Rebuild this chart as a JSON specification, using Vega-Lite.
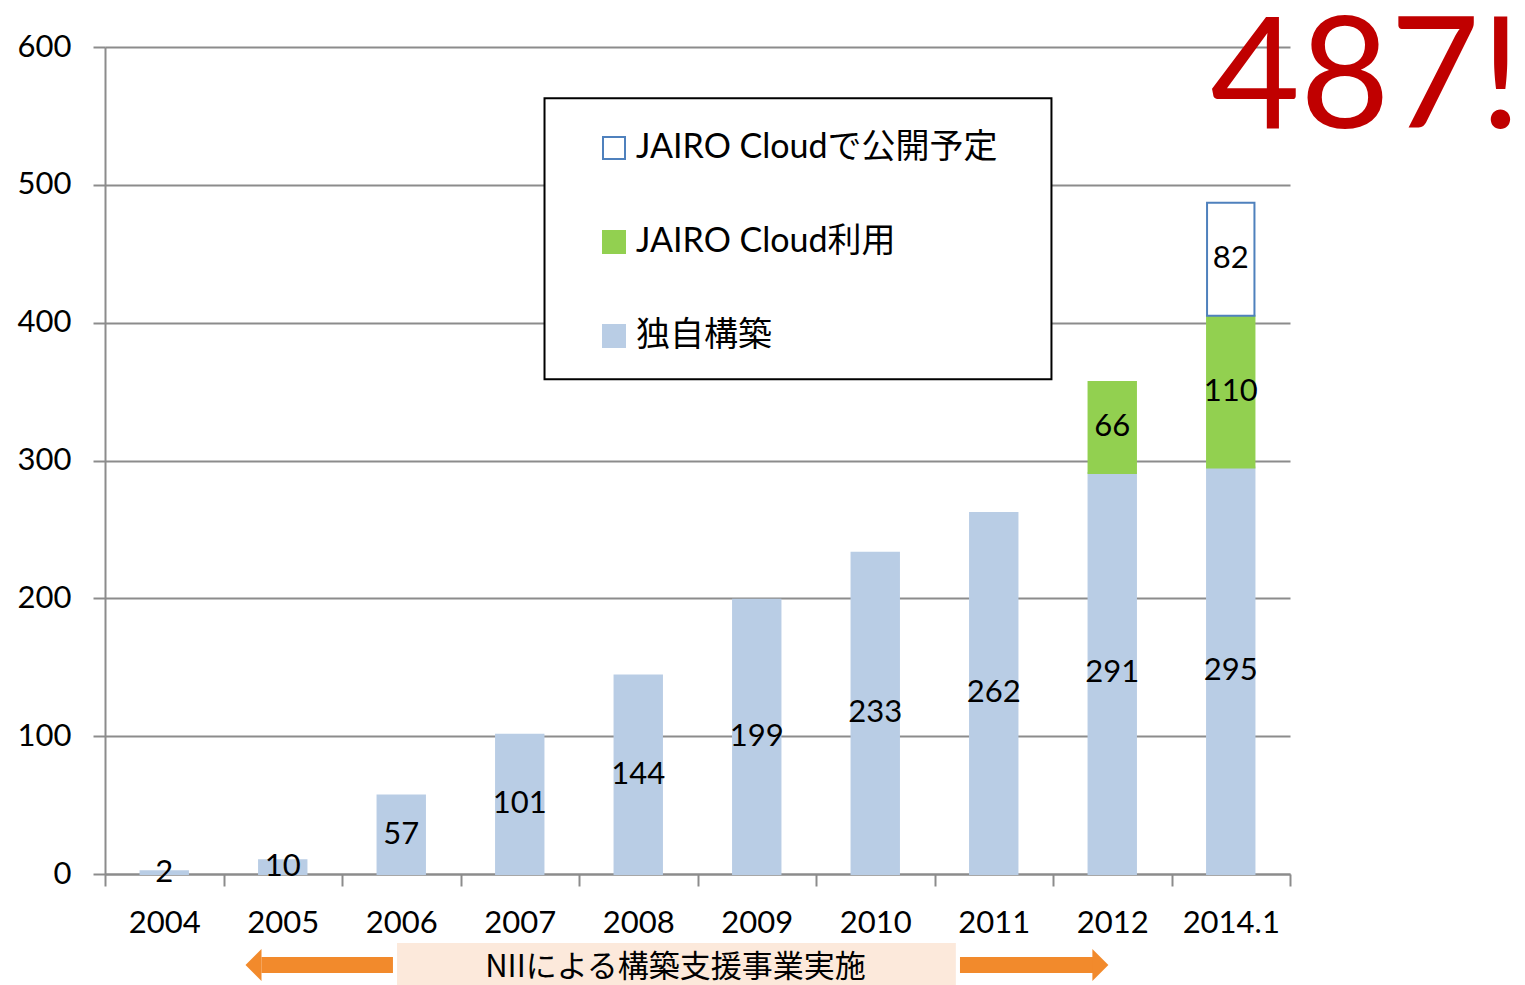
{
  "$schema": "https://vega.github.io/schema/vega-lite/v6.json",
  "width": 1185,
  "height": 827,
  "autosize": {"type": "none"},
  "padding": {"left": 105, "top": 47, "right": 235, "bottom": 111},
  "background": "white",
  "config": {"view": {"stroke": null}, "font": "Lato, Noto Sans CJK JP"},
  "datasets": {
    "bars": [
      {"year": "2004", "category": "独自構築", "ord": 1, "value": 2},
      {"year": "2005", "category": "独自構築", "ord": 1, "value": 10},
      {"year": "2006", "category": "独自構築", "ord": 1, "value": 57},
      {"year": "2007", "category": "独自構築", "ord": 1, "value": 101},
      {"year": "2008", "category": "独自構築", "ord": 1, "value": 144},
      {"year": "2009", "category": "独自構築", "ord": 1, "value": 199},
      {"year": "2010", "category": "独自構築", "ord": 1, "value": 233},
      {"year": "2011", "category": "独自構築", "ord": 1, "value": 262},
      {"year": "2012", "category": "独自構築", "ord": 1, "value": 291},
      {"year": "2012", "category": "JAIRO Cloud利用", "ord": 2, "value": 66},
      {"year": "2014.1", "category": "独自構築", "ord": 1, "value": 295},
      {"year": "2014.1", "category": "JAIRO Cloud利用", "ord": 2, "value": 110},
      {"year": "2014.1", "category": "JAIRO Cloudで公開予定", "ord": 3, "value": 82}
    ],
    "box": [{"x": 3.709, "x2": 7.987, "y": 358.9, "y2": 562.8}],
    "banner": [{"x": 2.464, "x2": 7.18, "y": -50.1, "y2": -90}],
    "bannerText": [{"x": 4.814, "y": -68, "text": "NIIによる構築支援事業実施"}],
    "shafts": [{"x": 1.32, "x2": 2.43, "y": -66}, {"x": 7.215, "x2": 8.34, "y": -66}],
    "heads": [{"x": 1.253, "y": -66, "dir": "left"}, {"x": 8.40, "y": -66, "dir": "right"}],
    "big": [{"x": 10.64, "y": 541.2, "text": "487!"}]
  },
  "resolve": {"scale": {"x": "independent"}},
  "layer": [
    {
      "data": {"name": "bars"},
      "mark": {"type": "bar", "strokeWidth": 2, "width": {"band": 0.4}},
      "encoding": {
        "x": {
          "field": "year", "type": "nominal",
          "sort": ["2004","2005","2006","2007","2008","2009","2010","2011","2012","2014.1"],
          "scale": {"type": "band", "paddingInner": 0, "paddingOuter": 0},
          "axis": {"title": null, "labelFontSize": 31, "labelColor": "black", "labelAngle": 0, "tickBand": "extent", "tickSize": 12, "tickColor": "#8c8c8c", "tickWidth": 2, "domainColor": "#8c8c8c", "domainWidth": 2, "labelPadding": 22, "grid": false}
        },
        "y": {
          "field": "value", "type": "quantitative", "stack": "zero",
          "scale": {"domain": [0, 600], "nice": false},
          "axis": {"title": null, "values": [0,100,200,300,400,500,600], "labelFontSize": 31, "labelColor": "black", "tickSize": 12, "labelPadding": 22, "tickColor": "#8c8c8c", "tickWidth": 2, "domainColor": "#8c8c8c", "domainWidth": 2, "grid": true, "gridColor": "#8c8c8c", "gridWidth": 2}
        },
        "color": {
          "field": "category", "type": "nominal",
          "scale": {"domain": ["JAIRO Cloudで公開予定", "JAIRO Cloud利用", "独自構築"], "range": ["#FFFFFF", "#92D050", "#B9CDE5"]},
          "legend": {"orient": "none", "legendX": 492, "legendY": 84, "title": null, "symbolType": "square", "symbolSize": 484, "symbolStrokeWidth": 2, "labelFontSize": 34, "labelColor": "black", "labelFont": "Lato, Noto Sans CJK JP", "labelOffset": 5, "rowPadding": 60, "padding": 0, "labelLimit": 600}
        },
        "stroke": {
          "field": "category", "type": "nominal",
          "scale": {"domain": ["JAIRO Cloudで公開予定", "JAIRO Cloud利用", "独自構築"], "range": ["#4F81BD", "#92D050", "#B9CDE5"]},
          "legend": {"orient": "none", "legendX": 492, "legendY": 84, "title": null, "symbolType": "square", "symbolSize": 484, "symbolStrokeWidth": 2, "labelFontSize": 34, "labelColor": "black", "labelFont": "Lato, Noto Sans CJK JP", "labelOffset": 5, "rowPadding": 60, "padding": 0, "labelLimit": 600}
        },
        "order": {"field": "ord", "type": "quantitative"}
      }
    },
    {
      "data": {"name": "box"},
      "mark": {"type": "rect", "fill": "white", "stroke": "black", "strokeWidth": 2},
      "encoding": {
        "x": {"field": "x", "type": "quantitative", "scale": {"domain": [0, 10], "nice": false, "zero": false}, "axis": null},
        "x2": {"field": "x2"},
        "y": {"field": "y", "type": "quantitative", "scale": {"domain": [0, 600], "nice": false}},
        "y2": {"field": "y2"}
      }
    },
    {
      "data": {"name": "bars"},
      "transform": [
        {"stack": "value", "groupby": ["year"], "sort": [{"field": "ord"}], "as": ["v0", "v1"]},
        {"calculate": "(datum.v0 + datum.v1) / 2", "as": "mid"}
      ],
      "mark": {"type": "text", "fontSize": 31, "color": "black", "baseline": "middle", "align": "center"},
      "encoding": {
        "x": {"field": "year", "type": "nominal", "sort": ["2004","2005","2006","2007","2008","2009","2010","2011","2012","2014.1"], "scale": {"type": "band", "paddingInner": 0, "paddingOuter": 0}, "axis": null},
        "y": {"field": "mid", "type": "quantitative", "scale": {"domain": [0, 600], "nice": false}},
        "text": {"field": "value", "type": "quantitative"}
      }
    },
    {
      "data": {"name": "banner"},
      "mark": {"type": "rect", "fill": "#FCE9DB"},
      "encoding": {
        "x": {"field": "x", "type": "quantitative", "scale": {"domain": [0, 10], "nice": false, "zero": false}, "axis": null},
        "x2": {"field": "x2"},
        "y": {"field": "y", "type": "quantitative", "scale": {"domain": [0, 600], "nice": false}},
        "y2": {"field": "y2"}
      }
    },
    {
      "data": {"name": "bannerText"},
      "mark": {"type": "text", "fontSize": 31, "color": "black", "baseline": "middle", "align": "center", "font": "Noto Sans CJK JP"},
      "encoding": {
        "x": {"field": "x", "type": "quantitative", "scale": {"domain": [0, 10], "nice": false, "zero": false}, "axis": null},
        "y": {"field": "y", "type": "quantitative", "scale": {"domain": [0, 600], "nice": false}},
        "text": {"field": "text"}
      }
    },
    {
      "data": {"name": "shafts"},
      "mark": {"type": "rule", "stroke": "#F28A2C", "strokeWidth": 16, "strokeCap": "butt"},
      "encoding": {
        "x": {"field": "x", "type": "quantitative", "scale": {"domain": [0, 10], "nice": false, "zero": false}, "axis": null},
        "x2": {"field": "x2"},
        "y": {"field": "y", "type": "quantitative", "scale": {"domain": [0, 600], "nice": false}}
      }
    },
    {
      "data": {"name": "heads"},
      "mark": {"type": "point", "filled": true, "fill": "#F28A2C", "stroke": null, "size": 1024, "opacity": 1},
      "encoding": {
        "x": {"field": "x", "type": "quantitative", "scale": {"domain": [0, 10], "nice": false, "zero": false}, "axis": null},
        "y": {"field": "y", "type": "quantitative", "scale": {"domain": [0, 600], "nice": false}},
        "shape": {"field": "dir", "type": "nominal", "scale": {"domain": ["left", "right"], "range": ["M 0.5 -1 L -0.5 0 L 0.5 1 Z", "M -0.5 -1 L 0.5 0 L -0.5 1 Z"]}, "legend": null}
      }
    },
    {
      "data": {"name": "big"},
      "mark": {"type": "text", "fontSize": 155, "color": "#C00000", "baseline": "alphabetic", "align": "center", "font": "Lato"},
      "encoding": {
        "x": {"field": "x", "type": "quantitative", "scale": {"domain": [0, 10], "nice": false, "zero": false}, "axis": null},
        "y": {"field": "y", "type": "quantitative", "scale": {"domain": [0, 600], "nice": false}},
        "text": {"field": "text"}
      }
    }
  ]
}
